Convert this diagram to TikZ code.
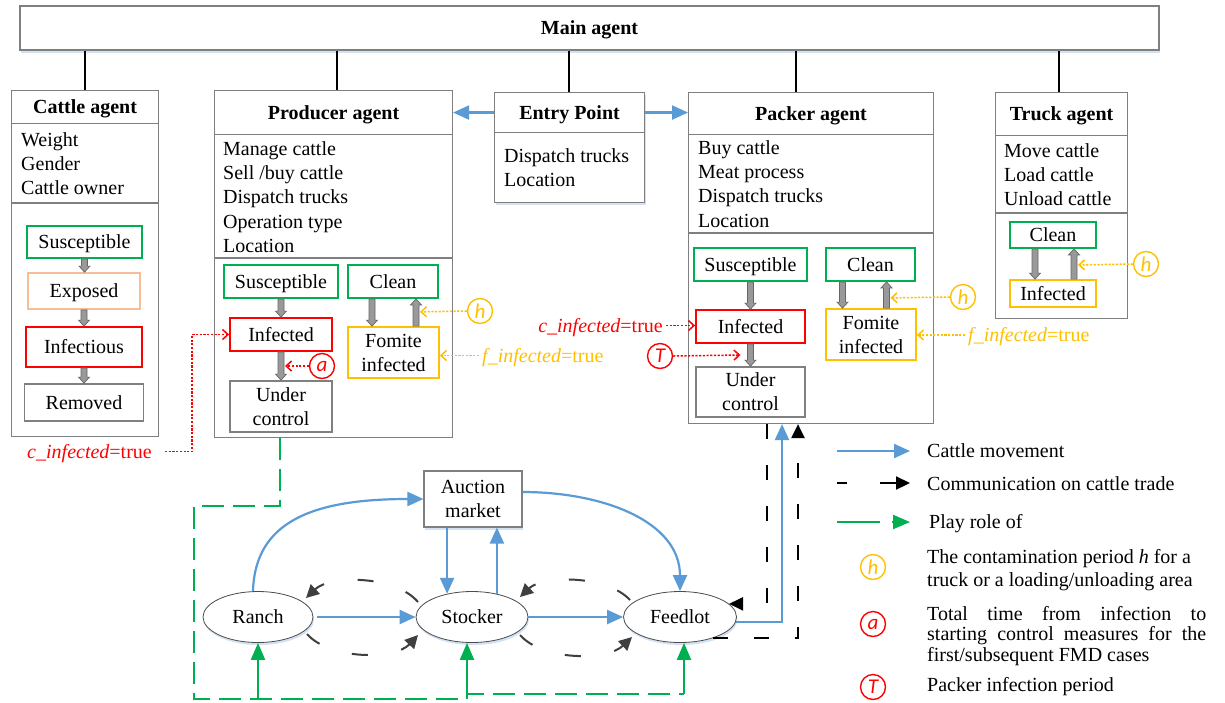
\documentclass[tikz,border=0pt]{standalone}
\usepackage{fontspec}
\setmainfont{Liberation Serif}
\newfontfamily\badgefont{Carlito}
\usetikzlibrary{arrows.meta,calc,shadows,shapes.geometric}

\definecolor{cattleblue}{HTML}{5B9BD5}
\definecolor{rolegreen}{HTML}{00B050}
\definecolor{alertred}{HTML}{FF0000}
\definecolor{fomiteamber}{HTML}{FFC000}
\definecolor{exposedpeach}{HTML}{F5BE98}
\definecolor{framegray}{HTML}{7F7F7F}
\definecolor{controlgray}{HTML}{808080}
\definecolor{shadeblue}{HTML}{D3E2F3}
\definecolor{arcgray}{HTML}{3F3F3F}

\tikzset{
  frame/.style={draw=framegray, line width=1.1pt},
  lifted/.style={drop shadow={shadow xshift=1pt, shadow yshift=-2.5pt, fill=shadeblue, opacity=1}},
  titlebox/.style={frame, fill=white, inner sep=0pt, text height=13pt, text depth=0pt,
    font=\fontsize{20}{24}\selectfont\bfseries},
  body/.style={frame, fill=white, inner sep=0pt, anchor=north west},
  attrs/.style={anchor=north west, inner sep=0pt, align=left, font=\fontsize{20}{24.3}\selectfont},
  state/.style={draw, line width=1.8pt, inner sep=0pt, align=center, fill=white},
  oneline/.style={text height=13pt, text depth=0pt},
  plain/.style={inner sep=0pt, text height=13pt, text depth=0pt},
  tie/.style={draw=black, line width=2pt},
  flow/.style={draw=cattleblue, line width=2.2pt, -{Triangle[length=16pt,width=14pt]}},
  role/.style={draw=rolegreen, line width=2.2pt, -{Triangle[length=17pt,width=14pt]}},
  rolebus/.style={draw=rolegreen, line width=2.2pt, dash pattern=on 22pt off 9pt},
  trade/.style={draw=black, line width=2.2pt, dash pattern=on 15pt off 26pt,
    -{Triangle[length=14pt,width=13pt]}},
  loop/.style={draw=arcgray, line width=2pt, dash pattern=on 16pt off 34pt,
    -{Triangle[length=13pt,width=13pt,fill=arcgray]}},
  redlink/.style={draw=alertred, line width=1.5pt, dash pattern=on 2.2pt off 1.5pt,
    -{Straight Barb[length=5.5pt,width=10pt]}},
  amberlink/.style={redlink, draw=fomiteamber},
  badge/.style={circle, draw, line width=1.4pt, minimum size=25pt, inner sep=0pt,
    font=\badgefont\itshape\fontsize{21}{24}\selectfont},
  place/.style={ellipse, draw=black!70, line width=0.8pt, fill=white, inner sep=0pt,
    text height=13pt, text depth=0pt, lifted},
  blockarrow/.style={draw=black!60, fill=black!40, line width=0.7pt,
    to path={let \p1=(\tikztostart), \p2=(\tikztotarget),
      \n1={(\y2-\y1)/abs(\y2-\y1)} in
      ({\x1-3pt},\y1) -- ({\x1-3pt},{\y2-(\n1)*6pt}) -- ({\x1-5.5pt},{\y2-(\n1)*6pt})
      -- (\x1,\y2) -- ({\x1+5.5pt},{\y2-(\n1)*6pt}) -- ({\x1+3pt},{\y2-(\n1)*6pt})
      -- ({\x1+3pt},\y1) -- cycle}},
}

\begin{document}
\begin{tikzpicture}[x=1pt,y=-1pt,font=\fontsize{20}{24}\selectfont]
\useasboundingbox (0,0) rectangle (1225,702);
\fill[white] (0,0) rectangle (1225,702);

% ---------- main agent ----------
\node[titlebox, minimum width=1139pt, minimum height=44pt, lifted] (main) at (589.5,28) {Main agent};

% ---------- cattle agent ----------
\node[body, minimum width=147pt, minimum height=346pt] (cattlebody) at (11,90) {};
\node[titlebox, minimum width=147pt, minimum height=33pt, anchor=north west] (cattle) at (11,90) {Cattle agent};
\draw[frame] (11,203) -- (158,203);
\node[attrs] (cattleattrs) at (21,129) {\strut Weight\\\strut Gender\\\strut Cattle owner};
\node[state, oneline, draw=rolegreen, minimum width=115pt, minimum height=32pt] (cs) at (84.5,242) {Susceptible};
\node[state, oneline, draw=exposedpeach, minimum width=112pt, minimum height=36pt] (ce) at (84,291) {Exposed};
\node[state, oneline, draw=alertred, minimum width=116pt, minimum height=40pt] (ci) at (84,347) {Infectious};
\node[state, oneline, draw=controlgray, minimum width=119pt, minimum height=37pt] (cr) at (84,402.5) {Removed};
\draw[blockarrow] (cs.south) to (cs.south |- ce.north);
\draw[blockarrow] (ce.south) to (ce.south |- ci.north);
\draw[blockarrow] (ci.south) to (ci.south |- cr.north);

% ---------- producer agent ----------
\node[body, minimum width=238pt, minimum height=347pt] (producerbody) at (214,90) {};
\node[titlebox, minimum width=238pt, minimum height=44pt, anchor=north west] (producer) at (214,90) {Producer agent};
\draw[frame] (214,258) -- (452,258);
\node[attrs] (producerattrs) at (223,138) {\strut Manage cattle\\\strut Sell /buy cattle\\\strut Dispatch trucks\\\strut Operation type\\\strut Location};
\node[state, oneline, draw=rolegreen, minimum width=114pt, minimum height=33pt] (ps) at (281,281.5) {Susceptible};
\node[state, oneline, draw=rolegreen, minimum width=90pt, minimum height=33pt] (pc) at (393,281.5) {Clean};
\node[state, oneline, draw=alertred, minimum width=102pt, minimum height=33pt] (pi) at (281,334.5) {Infected};
\node[state, draw=fomiteamber, minimum width=91pt, minimum height=51pt] (pf) at (393.5,352.5) {Fomite\\infected};
\node[state, draw=controlgray, minimum width=102pt, minimum height=51pt] (pu) at (281,406.5) {Under\\control};
\draw[blockarrow] (ps.south) to (ps.south |- pi.north);
\draw[blockarrow] (pi.south) to (pi.south |- pu.north);
\draw[blockarrow] ($(pc.south)+(-21,0)$) to ($(pc.south |- pf.north)+(-21,0)$);
\draw[blockarrow] ($(pc.south |- pf.north)+(23,0)$) to ($(pc.south)+(23,0)$);

% ---------- entry point ----------
\node[body, minimum width=150pt, minimum height=110pt, lifted] (entrybody) at (494,92) {};
\node[titlebox, minimum width=150pt, minimum height=40pt, anchor=north west] (entry) at (494,92) {Entry Point};
\node[attrs] (entryattrs) at (504,145) {\strut Dispatch trucks\\\strut Location};

% ---------- packer agent ----------
\node[body, minimum width=245pt, minimum height=331pt] (packerbody) at (688,92) {};
\node[titlebox, minimum width=245pt, minimum height=42pt, anchor=north west] (packer) at (688,92) {Packer agent};
\draw[frame] (688,233) -- (933,233);
\node[attrs] (packerattrs) at (698,137) {\strut Buy cattle\\\strut Meat process\\\strut Dispatch trucks\\\strut Location};
\node[state, oneline, draw=rolegreen, minimum width=113pt, minimum height=33pt] (ks) at (750.5,264.5) {Susceptible};
\node[state, oneline, draw=rolegreen, minimum width=89pt, minimum height=33pt] (kc) at (870.5,264.5) {Clean};
\node[state, oneline, draw=alertred, minimum width=109pt, minimum height=33pt] (ki) at (750.5,326.5) {Infected};
\node[state, draw=fomiteamber, minimum width=90pt, minimum height=51pt] (kf) at (871,334.5) {Fomite\\infected};
\node[state, draw=controlgray, minimum width=109pt, minimum height=50pt] (ku) at (750.5,392) {Under\\control};
\draw[blockarrow] (ks.south) to (ks.south |- ki.north);
\draw[blockarrow] (ki.south) to (ki.south |- ku.north);
\draw[blockarrow] ($(kc.south)+(-28,0)$) to ($(kc.south |- kf.north)+(-28,0)$);
\draw[blockarrow] ($(kc.south |- kf.north)+(16,0)$) to ($(kc.south)+(16,0)$);

% ---------- truck agent ----------
\node[body, minimum width=132pt, minimum height=226pt] (truckbody) at (995,92) {};
\node[titlebox, minimum width=132pt, minimum height=43pt, anchor=north west] (truck) at (995,92) {Truck agent};
\draw[frame] (995,213) -- (1127,213);
\node[attrs] (truckattrs) at (1004,140) {\strut Move cattle\\\strut Load cattle\\\strut Unload cattle};
\node[state, oneline, draw=rolegreen, minimum width=86pt, minimum height=26pt] (tc) at (1053,235) {Clean};
\node[state, oneline, draw=fomiteamber, minimum width=86pt, minimum height=27pt] (ti) at (1053,293.5) {Infected};
\draw[blockarrow] ($(tc.south)+(-18,0)$) to ($(tc.south |- ti.north)+(-18,0)$);
\draw[blockarrow] ($(tc.south |- ti.north)+(21,0)$) to ($(tc.south)+(21,0)$);

% ---------- links to the main agent ----------
\coordinate (tieC) at (cattle.north);
\coordinate (tieP) at ([xshift=3]producer.north);
\coordinate (tieE) at ([xshift=-1]entry.north);
\coordinate (tieK) at ([xshift=-15.5]packer.north);
\coordinate (tieT) at ([xshift=-3]truck.north);
\foreach \t in {tieC,tieP,tieE,tieK,tieT}
  \draw[tie] (\t |- main.south) -- (\t);

% ---------- entry point dispatch ----------
\draw[flow] (entry.west) -- (entry.west -| producer.east);
\draw[flow] (entry.east) -- (entry.east -| packer.west);

% ---------- infection triggers ----------
\node[plain, anchor=east, text=alertred] (cinfC) at (152,451.5) {{\itshape c\_infected}=true};
\draw[redlink] ([xshift=13]cinfC.east) -| ($(pi.west)+(-37,0)$) -- (pi.west);
\node[badge, draw=alertred, text=alertred] (pa) at (322,366) {a};
\draw[redlink] (pa.west) -- ($($(pi.south)!.5!(pu.north)$)+(4,0)$);
\node[badge, draw=fomiteamber, text=fomiteamber] (ph) at (480,311) {h};
\draw[amberlink] (ph.west) -- ($(pc.south)+(27,13)$);
\node[plain, anchor=west, text=fomiteamber] (pfi) at (482,355.5) {{\itshape f\_infected}=true};
\draw[amberlink] ([xshift=-3]pfi.west) -- (pfi.west -| pf.east);

\node[plain, anchor=east, text=alertred] (kci) at (663,325.5) {{\itshape c\_infected}=true};
\draw[redlink] ([xshift=3]kci.east) -- (kci.east -| ki.west);
\node[badge, draw=alertred, text=alertred] (kT) at (660,356) {T};
\draw[redlink] (kT.east) -- ($($(ki.south)!.5!(ku.north)$)+(-10,0)$);
\node[badge, draw=fomiteamber, text=fomiteamber] (kh) at (963,297) {h};
\draw[amberlink] (kh.west) -- ($(kc.south)+(20,16)$);
\node[plain, anchor=west, text=fomiteamber] (kfi) at (968,335) {{\itshape f\_infected}=true};
\draw[amberlink] ([xshift=-3]kfi.west) -- (kfi.west -| kf.east);

\node[badge, draw=fomiteamber, text=fomiteamber] (th) at (1146,264) {h};
\draw[amberlink] (th.west) -- ($(tc.south)+(25,16)$);

% ---------- cattle trade network ----------
\node[draw=framegray, line width=1.1pt, fill=white, minimum width=98pt, minimum height=56pt,
      inner sep=0pt, align=center, lifted] (auction) at (473,499) {Auction\\market};
\node[place, minimum width=110pt, minimum height=51pt] (ranch) at (258,617) {Ranch};
\node[place, minimum width=112pt, minimum height=51pt] (stocker) at (472,617) {Stocker};
\node[place, minimum width=113pt, minimum height=51pt] (feedlot) at (680,617) {Feedlot};

\draw[flow, shorten <=4pt] (ranch.east) -- (stocker.west);
\draw[flow] (stocker.east) -- (feedlot.west);
\draw[flow] ([xshift=-5]ranch.north) .. controls +(2,-70) and +(-110,0) .. (auction.west);
\draw[flow] ($(auction.east)+(0,-7)$) .. controls +(80,0) and +(0,-70) .. (feedlot.north);
\draw[flow] (auction.south -| stocker.137) -- (stocker.137);
\draw[flow] (stocker.43) -- (stocker.43 |- auction.south);

\draw[loop] ($(stocker)+(-54,-15)$) .. controls ($(stocker)+(-77,-42)$) and ($(ranch)+(72,-42)$) .. ($(ranch)+(48,-19)$);
\draw[loop] ($(ranch)+(49,17)$) .. controls ($(ranch)+(72,43)$) and ($(stocker)+(-77,43)$) .. ($(stocker)+(-54,18)$);
\draw[loop] ($(feedlot)+(-50,-17)$) .. controls ($(feedlot)+(-73,-42)$) and ($(stocker)+(71,-42)$) .. ($(stocker)+(48,-20)$);
\draw[loop] ($(stocker)+(48,18)$) .. controls ($(stocker)+(71,44)$) and ($(feedlot)+(-73,44)$) .. ($(feedlot)+(-48,20)$);

% feedlot <-> packer
\coordinate (pk0) at ([xshift=94]packerbody.south west);
\coordinate (pk1) at ([xshift=79]packerbody.south west);
\coordinate (pk2) at ([xshift=110]packerbody.south west);
\draw[trade] (pk1) |- (feedlot.15);
\draw[trade] (feedlot.-33) -| (pk2);
\draw[flow] (feedlot.-5) -| (pk0);

% producer plays the role of ranch, stocker and feedlot
\coordinate (busL) at (194,699);
\coordinate (busF) at (684,694);
\coordinate (sfoot) at ([xshift=-5]stocker.south);
\coordinate (ffoot) at ([xshift=4]feedlot.south);
\draw[rolebus] ([xshift=66]producerbody.south west) |- (194,506) -- (busL) -- (sfoot |- busL)
  -- (sfoot |- busF) -- (busF);
\draw[role] (ranch.south |- busL) -- (ranch.south);
\draw[role] (sfoot |- busL) -- (sfoot);
\draw[role] (ffoot |- busF) -- (ffoot);

% ---------- legend ----------
\coordinate (k1a) at (837,451); \coordinate (k1b) at (910,451);
\coordinate (k2a) at (837,483); \coordinate (k2b) at (910,483);
\coordinate (k3a) at (837,522); \coordinate (k3b) at (910,522);
\draw[flow] (k1a) -- (k1b);
\draw[trade, dash pattern=on 10pt off 33pt on 40pt off 10pt] (k2a) -- (k2b);
\draw[role, dash pattern=on 43pt off 12pt on 30pt off 10pt] (k3a) -- (k3b);
\node[plain, anchor=west] (keyflow) at (927,451) {Cattle movement};
\node[plain, anchor=west] (keytrade) at (927,483.5) {Communication on cattle trade};
\node[plain, anchor=west] (keyrole) at (929,521.5) {Play role of};
\node[badge, draw=fomiteamber, text=fomiteamber] (keyh) at (873,567) {h};
\node[attrs, font=\fontsize{20}{23}\selectfont] (keyhtext) at (927,547)
  {\strut The contamination period \textit{h} for a\\\strut truck or a loading/unloading area};
\node[badge, draw=alertred, text=alertred] (keya) at (873,624) {a};
\node[attrs, font=\fontsize{20}{20.5}\selectfont] (keyatext) at (927,605.6)
  {\strut\makebox[279pt][s]{Total time from infection to}\\
   \strut\makebox[279pt][s]{starting control measures for the}\\
   \strut first/subsequent FMD cases};
\node[badge, draw=alertred, text=alertred] (keyT) at (873,687) {T};
\node[plain, anchor=west] (keyTtext) at (927,685) {Packer infection period};
\end{tikzpicture}
\end{document}
